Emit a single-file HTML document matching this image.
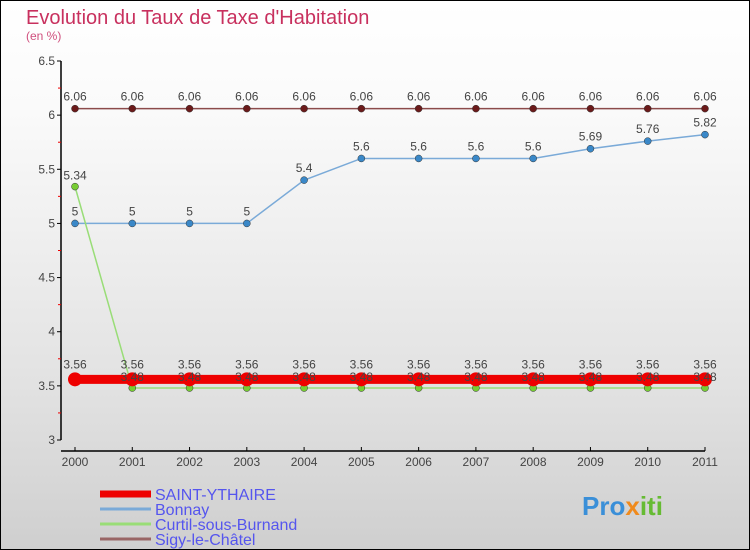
<!DOCTYPE html>
<html><head><meta charset="utf-8"><style>
body{margin:0;width:750px;height:550px;overflow:hidden;font-family:"Liberation Sans",sans-serif}
#wrap{position:absolute;left:0;top:0;width:748px;height:548px;border:1px solid #000;background:linear-gradient(#fff,#fafafa 20%,#e2e2e2 70%,#cfcfcf)}
svg{position:absolute;left:0;top:0}
text{font-family:"Liberation Sans",sans-serif}
</style></head><body>
<div id="wrap"></div>
<svg id="c" width="750" height="550">
<text x="26" y="24" font-size="20" fill="#c8305e">Evolution du Taux de Taxe d'Habitation</text>
<text x="26" y="40" font-size="12" fill="#d0507e">(en %)</text>
</svg>
<script>
const years=["2000","2001","2002","2003","2004","2005","2006","2007","2008","2009","2010","2011"];
const yTicks=[3,3.5,4,4.5,5,5.5,6,6.5];
const sigy=[6.06,6.06,6.06,6.06,6.06,6.06,6.06,6.06,6.06,6.06,6.06,6.06];
const bonnay=[5,5,5,5,5.4,5.6,5.6,5.6,5.6,5.69,5.76,5.82];
const curtil=[5.34,3.48,3.48,3.48,3.48,3.48,3.48,3.48,3.48,3.48,3.48,3.48];
const saint=[3.56,3.56,3.56,3.56,3.56,3.56,3.56,3.56,3.56,3.56,3.56,3.56];
const names=["SAINT-YTHAIRE","Bonnay","Curtil-sous-Burnand","Sigy-le-Châtel"];
const svg=document.getElementById('c');const NS="http://www.w3.org/2000/svg";
const X=i=>75+i*(630/(years.length-1));
const Y=v=>440-(v-3)*(379/3.5);
function mk(t,a,name,p){const e=document.createElementNS(NS,t);for(const k in a)e.setAttribute(k,a[k]);


(p||svg).appendChild(e);return e;}
mk('line',{x1:61,y1:Y(6.5),x2:61,y2:Y(3),stroke:'#000','stroke-width':1.5},'y-axis');
mk('line',{x1:61,y1:451,x2:705,y2:451,stroke:'#000','stroke-width':1.5},'x-axis');
yTicks.forEach(v=>{mk('line',{x1:57,x2:61,y1:Y(v),y2:Y(v),stroke:'#000'},'y-tick');
const t=mk('text',{x:55,y:Y(v)+4,'font-size':12,'text-anchor':'end',fill:'#444'},'y-tick-label');t.textContent=v;
if(v<6.5)mk('line',{x1:58,x2:61,y1:Y(v+0.25),y2:Y(v+0.25),stroke:'#e00'},'y-minor-tick');});
years.forEach((y,i)=>{mk('line',{x1:X(i),x2:X(i),y1:447,y2:451,stroke:'#000'},'x-tick');
const t=mk('text',{x:X(i),y:466,'font-size':12,'text-anchor':'middle',fill:'#444'},'x-tick-label');t.textContent=y;});
function series(d,col,w,r,dot,name,lab){
mk('polyline',{points:d.map((v,i)=>X(i)+','+Y(v)).join(' '),fill:'none',stroke:col,'stroke-width':w},name+'-line');
d.forEach((v,i)=>{mk('circle',{cx:X(i),cy:Y(v),r:r,fill:dot,stroke:'#333','stroke-width':r>5?0:0.5},name+'-point');
if(lab){const t=mk('text',{x:X(i),y:Y(v)-8,'font-size':12,'text-anchor':'middle',fill:'#444'},name+'-value-label');t.textContent=v;}});}
series(sigy,'#8b4a4a',1.5,3.5,'#6b1a1a','sigy',true);
series(bonnay,'#7aaad8',1.5,3.5,'#3a88c8','bonnay',true);
series(curtil,'#99dd77',1.5,3.5,'#77cc33','curtil',false);
series(saint,'#ee0000',9,7,'#ee0000','saint',false);
curtil.forEach((v,i)=>{const t=mk('text',{x:X(i),y:Y(v)-7,'font-size':12,'text-anchor':'middle',fill:'#444'},'curtil-value-label');t.textContent=v;});
saint.forEach((v,i)=>{const t=mk('text',{x:X(i),y:Y(v)-11,'font-size':12,'text-anchor':'middle',fill:'#444'},'saint-value-label');t.textContent=v;});
const cols=['#ee0000','#7aaad8','#99dd77','#996666'],ws=[7,3,3,3];
names.forEach((n,i)=>{const y=494+i*15;
mk('line',{x1:100,x2:151,y1:y,y2:y,stroke:cols[i],'stroke-width':ws[i]},'legend-swatch');
const t=mk('text',{x:155,y:y+6,'font-size':16,fill:'#5555ee'},'legend-entry');t.textContent=n;});
const lg=mk('text',{x:582,y:515,'font-size':26,'font-weight':'bold',fill:'#3a8fd8'},'proxiti-logo');
lg.innerHTML='<tspan fill="#3a8fd8">Pro</tspan><tspan fill="#f08a1c">x</tspan><tspan fill="#66bb33">iti</tspan>';
</script>
</body></html>
